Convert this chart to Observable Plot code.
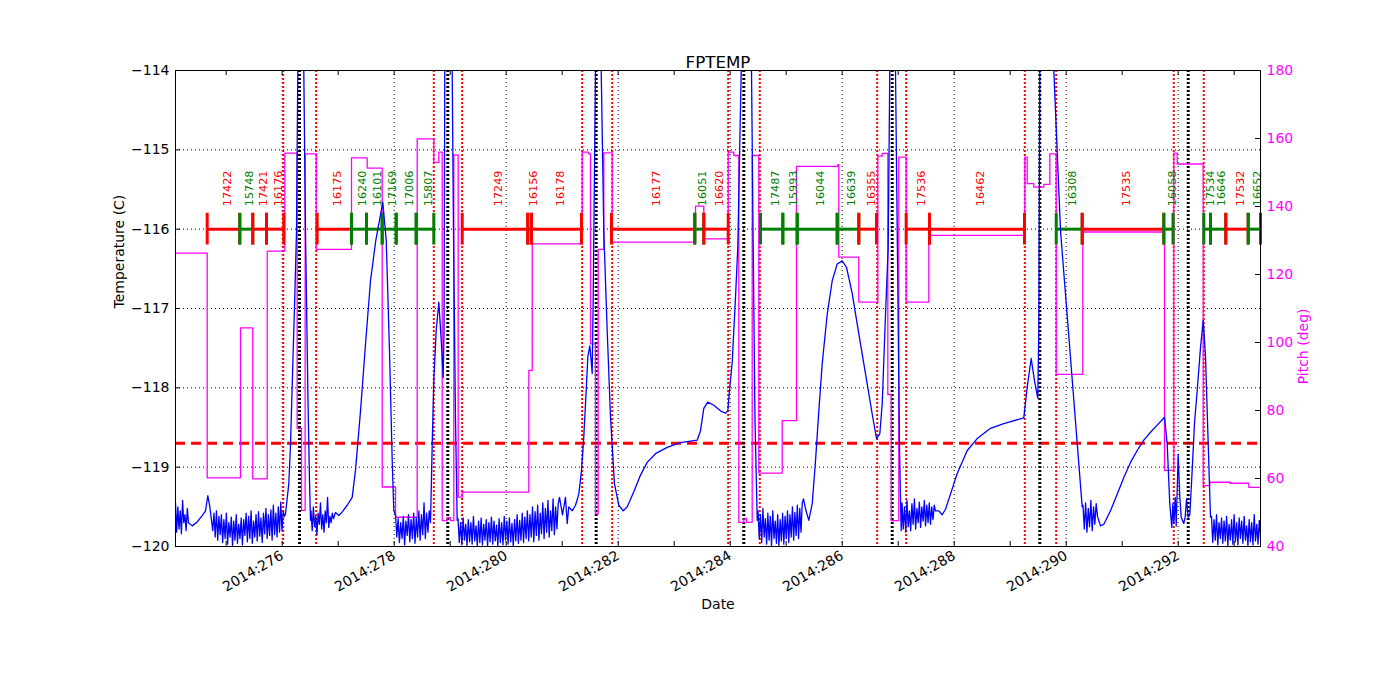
<!DOCTYPE html>
<html><head><meta charset="utf-8">
<script src="https://cdn.jsdelivr.net/npm/d3@7"></script>
<script src="https://cdn.jsdelivr.net/npm/@observablehq/plot@0.6"></script>
<style>body{margin:0;background:#fff;}</style>
</head><body><div id="chart"></div>
<script>
// ---------- data ----------
const xDomain = [274.095, 293.47];
const tempDomain = [-120, -114];
const pitchDomain = [40, 180];
const majorDays = [276, 278, 280, 282, 284, 286, 288, 290, 292];
const allDays = [275,276,277,278,279,280,281,282,283,284,285,286,287,288,289,290,291,292,293];
const tempTicks = [-120, -119, -118, -117, -116, -115, -114];
const tempGrid = [-119, -118, -117, -116, -115];
const pitchTicks = [40, 60, 80, 100, 120, 140, 160, 180];
const limitTemp = -118.7;
const radZoneEdges = [276.018, 276.607, 278.707, 279.214, 281.357, 281.893, 283.964, 284.529, 286.625, 287.143, 289.261, 289.821, 291.921, 292.457];
const perigees = [276.309, 278.957, 281.607, 284.243, 286.893, 289.529, 292.179];

const obsIds   = ["17422","15748","17421","16176","16175","16240","16101","17169","17006","15807","17249","16156","16178","16177","16051","16620","17487","15993","16044","16639","16355","17536","16462","16308","17535","16058","17534","16646","17532","16652"];
const obsStart = [274.661,275.243,275.475,275.720,276.625,277.238,277.506,277.786,278.036,278.393,279.215,280.386,280.452,281.881,283.368,283.529,284.541,284.940,285.197,285.911,286.297,287.143,287.559,289.822,290.286,291.743,292.458,292.577,292.850,293.250];
const obsEnd   = [275.243,275.475,275.720,276.029,277.238,277.506,277.786,278.036,278.393,278.708,280.386,280.452,281.345,283.368,283.529,283.965,284.940,285.197,285.911,286.297,286.613,287.559,289.256,290.286,291.743,291.908,292.577,292.850,293.250,293.47];
const obsKind  = ["r","g","r","r","r","g","g","g","g","g","r","r","r","r","g","r","g","g","g","g","r","r","r","g","r","g","g","g","r","g"];
const obsLevel = -116;

const pitchDays = [274.095,274.661,275.256,275.475,275.733,276.047,276.268,276.345,276.41,276.608,277.238,277.518,277.786,278.024,278.411,278.708,278.797,278.858,278.947,279.006,279.065,279.143,279.215,280.404,280.465,281.358,281.475,281.506,281.595,281.643,281.743,281.893,283.381,283.529,283.965,284.065,284.154,284.243,284.291,284.393,284.511,284.929,285.184,285.922,285.940,286.297,286.636,286.715,286.815,286.875,287.011,287.143,287.547,289.261,289.304,289.422,289.600,289.708,289.822,290.297,291.756,291.922,291.983,292.447,292.565,292.934,293.261,293.47];
const pitchValues = [126.3,60.2,104.3,59.9,126.9,155.7,74.7,50.6,155.5,127.4,154.3,151.3,57.5,48.6,159.9,153.0,156.0,47.6,48.5,47.6,155.2,54.5,56.0,91.8,129.0,156.0,155.5,99.6,49.6,127.4,155.8,129.5,140.1,130.5,156.0,155.0,47.1,48.3,47.1,155.0,61.6,77.0,151.8,152.3,125.1,111.9,154.8,155.6,84.7,47.6,154.5,111.9,131.5,154.5,146.7,145.7,146.5,155.5,90.6,132.5,62.4,155.7,152.5,57.9,58.9,58.6,57.4,57.4];

// smooth temperature readings [day, degC]
const tempPoints = [
[274.393,-119.74],[274.483,-119.69],[274.572,-119.61],[274.631,-119.55],[274.672,-119.36],[274.708,-119.50],
[276.059,-119.59],[276.118,-119.21],[276.149,-118.71],[276.190,-117.70],[276.225,-116.86],[276.256,-116.02],[276.279,-114.0],[276.300,-112.8],[276.363,-112.8],[276.386,-114.0],[276.416,-116.02],[276.461,-118.16],[276.488,-119.17],[276.506,-119.67],
[276.952,-119.57],[277.011,-119.61],[277.077,-119.56],[277.161,-119.48],[277.250,-119.38],[277.309,-119.04],[277.399,-118.29],[277.488,-117.45],[277.577,-116.65],[277.672,-116.14],[277.797,-115.66],[277.858,-116.14],[277.916,-117.53],[277.965,-118.92],[277.993,-119.55],
[278.679,-118.71],[278.708,-117.91],[278.750,-117.28],[278.797,-116.92],[278.840,-117.40],[278.875,-117.87],[278.890,-117.28],[278.904,-114.0],[278.934,-112.8],[279.006,-112.8],[279.036,-114.0],[279.059,-116.02],[279.095,-118.41],[279.125,-119.67],
[281.006,-119.60],[281.059,-119.38],[281.090,-119.71],[281.118,-119.50],[281.179,-119.55],[281.238,-119.48],[281.297,-119.34],[281.345,-119.04],[281.386,-118.62],[281.429,-118.03],[281.458,-117.61],[281.493,-117.47],[281.518,-117.66],[281.536,-117.82],[281.554,-116.86],[281.595,-114.0],[281.631,-112.8],[281.666,-112.8],[281.697,-114.0],[281.743,-116.02],[281.804,-117.28],[281.863,-118.37],[281.934,-119.21],[282.011,-119.48],[282.090,-119.55],[282.161,-119.50],[282.279,-119.31],[282.399,-119.10],[282.518,-118.94],[282.666,-118.83],[282.875,-118.75],[283.113,-118.69],[283.411,-118.66],[283.470,-118.54],[283.529,-118.26],[283.600,-118.18],[283.708,-118.22],[283.827,-118.29],[283.916,-118.32],[283.958,-118.29],[283.993,-117.99],[284.036,-117.68],[284.095,-116.86],[284.136,-116.23],[284.197,-114.0],[284.238,-112.8],[284.345,-112.8],[284.381,-114.0],[284.408,-116.02],[284.443,-118.40],[284.483,-119.67],
[285.354,-119.55],[285.404,-119.67],[285.465,-119.46],[285.524,-118.92],[285.583,-118.29],[285.643,-117.70],[285.733,-117.07],[285.822,-116.65],[285.911,-116.44],[286.000,-116.40],[286.077,-116.48],[286.179,-116.81],[286.297,-117.32],[286.416,-117.82],[286.536,-118.33],[286.613,-118.64],[286.672,-118.58],[286.715,-118.20],[286.774,-117.07],[286.822,-116.23],[286.850,-114.0],[286.881,-112.8],[286.925,-112.8],[286.952,-114.0],[286.983,-116.02],[287.024,-118.79],[287.054,-119.80],
[287.725,-119.55],[287.786,-119.60],[287.845,-119.53],[287.934,-119.34],[288.054,-119.08],[288.233,-118.79],[288.411,-118.64],[288.649,-118.51],[288.886,-118.45],[289.184,-118.39],[289.243,-118.38],[289.304,-117.99],[289.375,-117.63],[289.434,-117.91],[289.493,-118.13],[289.511,-117.28],[289.529,-114.0],[289.577,-112.8],[289.720,-112.8],[289.779,-114.0],[289.899,-116.02],[290.286,-119.50],
[290.613,-119.74],[290.672,-119.72],[290.791,-119.55],[290.911,-119.34],[291.029,-119.13],[291.149,-118.94],[291.268,-118.79],[291.386,-118.66],[291.506,-118.56],[291.625,-118.47],[291.756,-118.37],[291.804,-118.71],[291.850,-119.46],[291.886,-119.76],[291.904,-119.46],[291.922,-119.71],[291.947,-119.38],[291.965,-119.74],[292.000,-118.84],[292.029,-119.38],[292.054,-119.63],[292.100,-119.71],[292.125,-119.63],[292.149,-119.40],[292.179,-119.63],[292.208,-119.60],[292.250,-119.04],[292.291,-118.45],[292.340,-118.03],[292.399,-117.49],[292.447,-117.15],[292.488,-117.61],[292.529,-118.54],[292.577,-119.63]
];

// noisy stretches (evenly sampled readings between the given days)
const noiseSpans = [[274.095,274.327],[274.738,276.041],[276.515,276.916],[278.024,278.649],[279.140,280.952],[284.497,285.309],[287.068,287.666],[290.300,290.559],[292.595,293.47]];
const noise1 = [-119.45,-119.82,-119.50,-119.78,-119.55,-119.84,-119.42,-119.70,-119.60,-119.80,-119.52,-119.70];
const noise2 = [-119.67,-119.80,-119.58,-119.88,-119.55,-119.92,-119.62,-119.85,-119.60,-119.95,-119.66,-119.90,-119.58,-119.97,-119.70,-119.88,-119.63,-119.99,-119.68,-119.92,-119.60,-119.96,-119.72,-119.90,-119.64,-119.98,-119.66,-119.86,-119.58,-119.94,-119.62,-119.90,-119.55,-119.96,-119.68,-119.88,-119.60,-119.93,-119.56,-119.87,-119.64,-119.95,-119.58,-119.84,-119.52,-119.90,-119.60,-119.86,-119.54,-119.92,-119.48,-119.85,-119.58,-119.88,-119.50,-119.82,-119.44,-119.80,-119.56,-119.62];
const noise3 = [-119.55,-119.80,-119.50,-119.75,-119.62,-119.85,-119.58,-119.72,-119.45,-119.78,-119.60,-119.82,-119.55,-119.70,-119.38,-119.76,-119.62,-119.70,-119.58,-119.65];
const noise4 = [-119.60,-119.88,-119.65,-119.95,-119.70,-119.90,-119.62,-119.98,-119.68,-119.86,-119.60,-119.94,-119.66,-119.90,-119.58,-119.96,-119.64,-119.88,-119.55,-119.92,-119.60,-119.85,-119.45,-119.90,-119.58,-119.82,-119.55,-119.70];
const noise5 = [-119.65,-119.95,-119.70,-119.98,-119.64,-119.92,-119.72,-119.99,-119.66,-119.94,-119.70,-119.97,-119.62,-119.93,-119.74,-119.99,-119.68,-119.95,-119.64,-119.98,-119.72,-119.92,-119.66,-119.99,-119.70,-119.94,-119.63,-119.97,-119.68,-119.93,-119.73,-119.99,-119.65,-119.95,-119.70,-119.98,-119.62,-119.92,-119.68,-119.97,-119.64,-119.94,-119.71,-119.99,-119.66,-119.93,-119.60,-119.96,-119.67,-119.92,-119.58,-119.95,-119.63,-119.90,-119.55,-119.93,-119.60,-119.88,-119.50,-119.94,-119.56,-119.86,-119.48,-119.92,-119.58,-119.84,-119.45,-119.90,-119.52,-119.82,-119.42,-119.88,-119.55,-119.80,-119.40,-119.85,-119.50,-119.78,-119.46,-119.38];
const noise6 = [-119.55,-119.90,-119.60,-119.95,-119.52,-119.88,-119.65,-119.97,-119.58,-119.92,-119.62,-119.99,-119.55,-119.90,-119.68,-119.96,-119.60,-119.99,-119.66,-119.93,-119.58,-119.97,-119.62,-119.90,-119.55,-119.95,-119.60,-119.88,-119.50,-119.92,-119.57,-119.86,-119.48,-119.90,-119.52,-119.82,-119.45,-119.40];
const noise7 = [-119.45,-119.78,-119.50,-119.82,-119.42,-119.75,-119.55,-119.80,-119.46,-119.72,-119.40,-119.78,-119.52,-119.70,-119.44,-119.76,-119.50,-119.68,-119.42,-119.74,-119.48,-119.70,-119.45,-119.72,-119.50,-119.66,-119.48,-119.55];
const noise8 = [-119.48,-119.78,-119.45,-119.82,-119.52,-119.75,-119.42,-119.80,-119.50,-119.72,-119.46,-119.62];
const noise9 = [-119.62,-119.95,-119.66,-119.92,-119.60,-119.98,-119.70,-119.90,-119.64,-119.96,-119.68,-119.93,-119.62,-119.99,-119.72,-119.92,-119.66,-119.97,-119.60,-119.94,-119.70,-119.98,-119.64,-119.90,-119.68,-119.96,-119.62,-119.92,-119.74,-119.99,-119.66,-119.94,-119.70,-119.98,-119.60,-119.93,-119.72,-119.97,-119.67,-119.90];
const noiseRuns = [noise1, noise2, noise3, noise4, noise5, noise6, noise7, noise8, noise9];

// ---------- build tables ----------
const BLUE = "#0000ff", MAGENTA = "#ff00ff", RED = "#ff0000", GREEN = "#008000";
const kindColor = {r: RED, g: GREEN};
const toT = p => tempDomain[0] + (p - pitchDomain[0]) * (tempDomain[1] - tempDomain[0]) / (pitchDomain[1] - pitchDomain[0]);
const fromT = t => pitchDomain[0] + (t - tempDomain[0]) * (pitchDomain[1] - pitchDomain[0]) / (tempDomain[1] - tempDomain[0]);

const tempData = tempPoints.map(([day, temp]) => ({day, temp}));
noiseRuns.forEach((vals, i) => {
  const [a, b] = noiseSpans[i];
  vals.forEach((v, j) => tempData.push({day: a + (b - a) * j / (vals.length - 1), temp: v}));
});
tempData.sort((p, q) => p.day - q.day);

const pitchData = pitchDays.map((day, i) => ({day, pitch: pitchValues[i]}));
const obs = obsIds.map((id, i) => ({id, start: obsStart[i], end: obsEnd[i], color: kindColor[obsKind[i]]}));
const obsEnds = obs.flatMap(o => [{x: o.start, color: o.color}, {x: o.end, color: o.color}]);

const W = 1400, H = 700, mL = 175, mR = 140, mT = 70, mB = 154;
const fw = W - mL - mR, fh = H - mT - mB;
const tickLen = 5, obsTickHalf = 0.2;

const chart = Plot.plot({
  width: W, height: H,
  marginLeft: mL, marginRight: mR, marginTop: mT, marginBottom: mB,
  x: {domain: xDomain},
  y: {domain: tempDomain},
  style: {fontFamily: "DejaVu Sans", background: "#fff", color: "#000"},
  marks: [
    Plot.gridX(majorDays, {stroke: "#000", strokeOpacity: 1, strokeDasharray: "1,3", strokeWidth: 1}),
    Plot.gridY(tempGrid, {stroke: "#000", strokeOpacity: 1, strokeDasharray: "1,3", strokeWidth: 1}),
    Plot.ruleY([limitTemp], {stroke: RED, strokeWidth: 3, strokeDasharray: "10,6"}),
    Plot.ruleX(radZoneEdges, {stroke: RED, strokeWidth: 2, strokeDasharray: "2,2"}),
    Plot.ruleX(perigees, {stroke: "#000", strokeWidth: 3, strokeDasharray: "2,2"}),
    Plot.line(pitchData, {x: "day", y: d => toT(d.pitch), curve: "step-after", stroke: MAGENTA, strokeWidth: 1.3, clip: true}),
    Plot.ruleY(obs, {y: () => obsLevel, x1: "start", x2: "end", stroke: "color", strokeWidth: 3}),
    Plot.ruleX(obsEnds, {x: "x", y1: () => obsLevel - obsTickHalf, y2: () => obsLevel + obsTickHalf, stroke: "color", strokeWidth: 3}),
    Plot.text(obs, {x: d => (d.start + d.end) / 2, y: () => obsLevel, text: "id", fill: "color", rotate: -90, textAnchor: "start", dx: 3.5, dy: -23, fontSize: 11.2}),
    Plot.line(tempData, {x: "day", y: "temp", stroke: BLUE, strokeWidth: 1.3, clip: true}),
    Plot.frame({stroke: "#000", strokeWidth: 1}),
    // inward tick marks
    Plot.ruleX(allDays, {stroke: "#000", insetTop: fh - tickLen}),
    Plot.ruleX(allDays, {stroke: "#000", insetBottom: fh - tickLen}),
    Plot.ruleY(tempTicks, {stroke: "#000", insetRight: fw - tickLen}),
    Plot.ruleY(pitchTicks.map(toT), {stroke: "#000", insetLeft: fw - tickLen}),
    // axes
    Plot.axisX({ticks: majorDays, tickSize: 0, tickPadding: 8, tickRotate: -30, tickFormat: d => `2014:${d}`, fontSize: 14, label: null}),
    Plot.axisY({ticks: tempTicks, tickSize: 0, tickPadding: 6, fontSize: 14, label: null, tickFormat: d3.format("d")}),
    Plot.axisY({ticks: pitchTicks.map(toT), anchor: "right", tickSize: 0, tickPadding: 6, fontSize: 14, label: null, fill: MAGENTA, tickFormat: t => String(Math.round(fromT(t)))}),
    // titles
    Plot.text(["FPTEMP"], {frameAnchor: "top", dy: -14, fontSize: 16.7, text: d => d}),
    Plot.text(["Date"], {frameAnchor: "bottom", dy: 62, fontSize: 14, text: d => d}),
    Plot.text(["Temperature (C)"], {frameAnchor: "left", rotate: -90, dx: -56, fontSize: 14, text: d => d}),
    Plot.text(["Pitch (deg)"], {frameAnchor: "right", rotate: -90, dx: 43, fontSize: 14, fill: MAGENTA, text: d => d})
  ]
});
document.getElementById("chart").appendChild(chart);
</script>
</body></html>
